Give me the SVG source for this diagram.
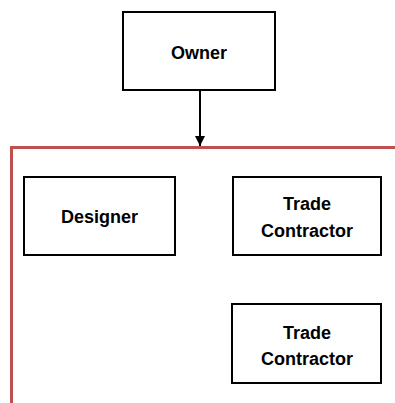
<svg xmlns="http://www.w3.org/2000/svg" width="395" height="403" viewBox="0 0 395 403">
  <style>
    .box { fill: #ffffff; stroke: #000000; stroke-width: 2; }
    .lbl { font-family: "Liberation Sans", Arial, sans-serif; font-weight: bold; font-size: 18px; fill: #000000; text-anchor: middle; }
    .frame { fill: none; stroke: #c0504d; stroke-width: 3; }
    .conn { stroke: #000000; stroke-width: 2; fill: none; }
  </style>
  <defs>
    <marker id="arrow" viewBox="0 0 10 10" refX="10" refY="5" markerWidth="5" markerHeight="5" orient="auto" markerUnits="strokeWidth">
      <path d="M0,0 L10,5 L0,10 z" fill="#000000"/>
    </marker>
  </defs>
  <rect width="395" height="403" fill="#ffffff"/>

  <!-- project team boundary -->
  <path class="frame" d="M11.5,403 V147.5 H395"/>

  <g id="connectors">
    <line class="conn" x1="200" y1="90" x2="200" y2="146" marker-end="url(#arrow)"/>
  </g>

  <g id="owner">
    <rect class="box" x="123" y="12" width="152" height="78"/>
    <text class="lbl" x="199" y="59">Owner</text>
  </g>

  <g id="designer">
    <rect class="box" x="24" y="177" width="151" height="78"/>
    <text class="lbl" x="99.5" y="222.5">Designer</text>
  </g>

  <g id="trade-contractor-1">
    <rect class="box" x="233" y="177" width="148" height="78"/>
    <text class="lbl" x="307" y="209.5">Trade</text>
    <text class="lbl" x="307" y="236.5">Contractor</text>
  </g>

  <g id="trade-contractor-2">
    <rect class="box" x="232" y="304" width="149" height="79"/>
    <text class="lbl" x="307" y="338.5">Trade</text>
    <text class="lbl" x="307" y="364.5">Contractor</text>
  </g>
</svg>
